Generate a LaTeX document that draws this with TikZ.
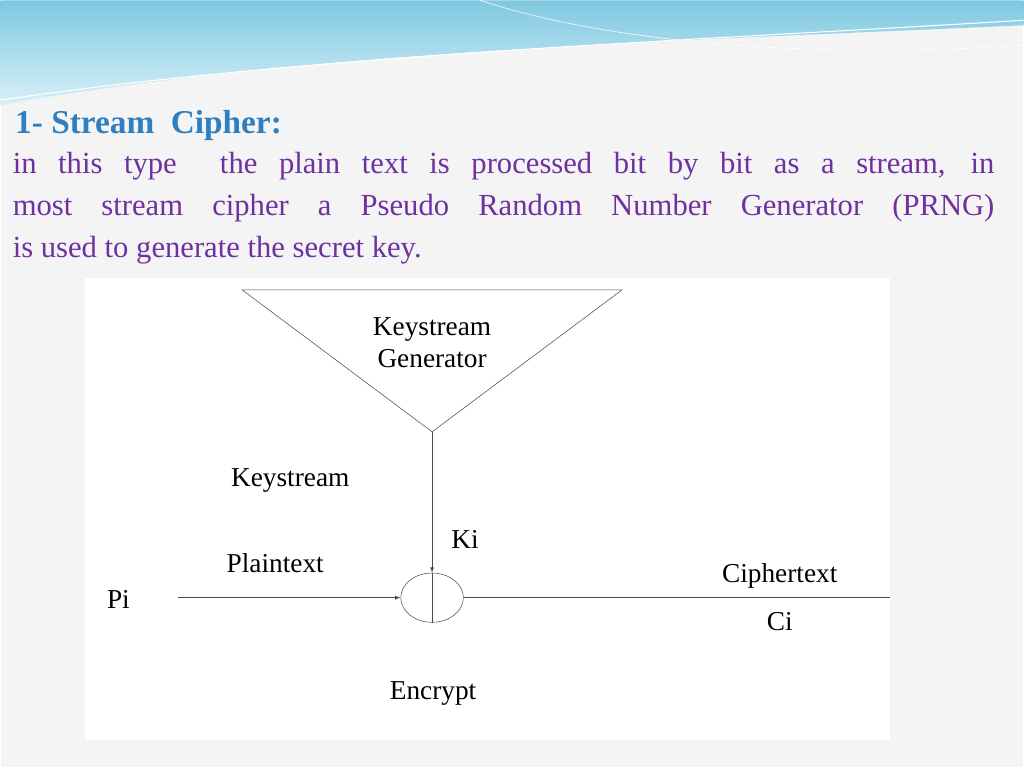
\documentclass[tikz,border=0pt]{standalone}
\usepackage{fontspec}
\setmainfont{Liberation Serif}
\usetikzlibrary{positioning,shapes.geometric,arrows}
\definecolor{slidebg}{HTML}{F4F4F4}
\definecolor{titleblue}{HTML}{2F7FC0}
\definecolor{bodypurple}{HTML}{7030A0}
\definecolor{wavea}{HTML}{7FC8E0}
\definecolor{waveb}{HTML}{D8F0F8}
\begin{document}
\begin{tikzpicture}[x=0.75pt,y=-0.75pt,
   lbl/.style={font=\fontsize{20.5}{24}\selectfont,inner sep=0pt},
   wire/.style={draw=black!70,thin}]
 % slide background and banner
 \fill[slidebg] (0,0) rectangle (1024,768);
 \shade[top color=wavea,bottom color=waveb] (0,0) -- (1024,0) -- (1024,25)
   .. controls (700,40) and (300,50) .. (0,105) -- cycle;
 \draw[white,thick] (0,100) .. controls (300,55) and (700,40) .. (1024,20);
 \draw[white] (480,0) .. controls (600,40) and (800,60) .. (1024,45);
 \fill[white] (85,278) rectangle (890,740);

 % title and text
 \node[anchor=west,text=titleblue,font=\fontsize{25}{30}\selectfont\bfseries] (title) at (10,125) {1- Stream~ Cipher:};
 \node[anchor=north west,text=bodypurple,text width=737pt,align=justify,inner sep=0pt,
   font=\fontsize{23}{31.5}\selectfont] (body) at (12,152)
   {in this type~ the plain text is processed bit by bit as a stream, in\linebreak
    most stream cipher a Pseudo Random Number Generator (PRNG)\linebreak
    is used to generate the secret key.};

 % diagram
 \coordinate (tl) at (242,290);
 \coordinate (tr) at (622,290);
 \coordinate (apex) at (432,432);
 \draw[wire] (tl) -- (tr) -- (apex) -- cycle;
 \node[lbl,align=center] (gen) at (432,343) {Keystream\\Generator};
 \node[draw=black!70,thin,ellipse,minimum width=47pt,minimum height=37pt,inner sep=0pt] (xor) at (432,598) {};
 \draw[wire] (xor.north) -- (xor.south);
 \draw[wire,-latex] (apex) -- (xor.north);
 \coordinate (pin) at (178,598);
 \coordinate (cout) at (890,598);
 \draw[wire,-latex] (pin) -- (xor.west);
 \draw[wire] (xor.east) -- (cout);

 \node[lbl] (ks) at (290,481) {Keystream};
 \node[lbl] (ki) at (465,540) {Ki};
 \node[lbl] (pt) at (275,563) {Plaintext};
 \node[lbl] (pi) at (118,600) {Pi};
 \node[lbl] (ct) at (780,576) {Ciphertext};
 \node[lbl] (ci) at (780,622) {Ci};
 \node[lbl] (enc) at (433,694) {Encrypt};
\end{tikzpicture}
\end{document}
